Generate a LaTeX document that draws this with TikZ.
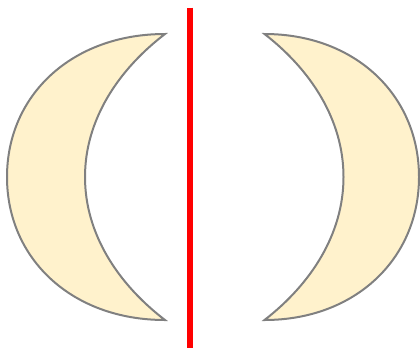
\documentclass[tikz,border=0pt]{standalone}
\begin{document}
\begin{tikzpicture}[x=1pt,y=-1pt,
  crescent/.style={draw=black!50,fill={rgb,255:red,255;green,242;blue,204},line width=2pt,line join=miter},
  axis/.style={draw={rgb,255:red,255;green,0;blue,0},line width=6pt}]
\useasboundingbox (0,0) rectangle (420,349);
% left crescent
\path[crescent] (165,34) .. controls (72,34) and (7,95) .. (7,177)
  .. controls (7,259) and (72,320) .. (165,320)
  .. controls (118,284) and (85,234) .. (85,177)
  .. controls (85,120) and (118,70) .. cycle;
% right crescent
\path[crescent] (264.5,34) .. controls (355,34) and (419,95) .. (419,177)
  .. controls (419,259) and (355,320) .. (264.5,320)
  .. controls (311,284) and (343.5,234) .. (343.5,177)
  .. controls (343.5,120) and (311,70) .. cycle;
% red line
\coordinate (t) at (189.7,7.5);
\coordinate (b) at (189.7,348);
\draw[axis] (t) -- (b);
\end{tikzpicture}
\end{document}
